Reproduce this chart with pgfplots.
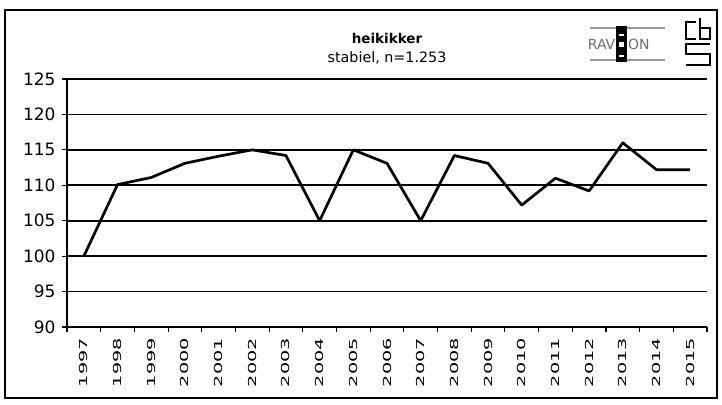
\documentclass[border=0pt]{standalone}
\usepackage{pgfplots}
\pgfplotsset{compat=1.18}
\usepackage{fontspec}
\setmainfont{DejaVu Sans}
\definecolor{logogray}{RGB}{110,110,110}

\begin{document}
\begin{tikzpicture}
\useasboundingbox (0,0) rectangle (722pt,404pt);
\draw[line width=1.5pt] (5pt,6pt) rectangle (717pt,394pt);

\begin{axis}[
	at={(67pt,77pt)}, anchor=south west,
	scale only axis, width=640pt, height=248pt,
	xmin=0.5, xmax=19.5, ymin=90, ymax=125,
	ytick={90,95,...,125},
	ymajorgrids, grid style={black, line width=1.6pt},
	axis lines*=left,
	axis line style={line width=1.6pt},
	xtick={0.5,1.5,...,19.5},
	x tick label as interval,
	xticklabels={1997,1998,1999,2000,2001,2002,2003,2004,2005,2006,2007,2008,2009,2010,2011,2012,2013,2014,2015},
	tick align=outside, major tick length=5pt,
	tick style={black, line width=1.1pt},
	/pgf/number format/assume math mode=true,
	yticklabel style={font=\fontsize{17}{17}\selectfont, xshift=-3pt},
	xticklabel style={font=\fontsize{11}{11}\selectfont, rotate=90, xscale=1.75, anchor=east},
	clip=false
]
\addplot[black, line width=2.7pt, line join=round] coordinates {
(1,100) (2,110.1) (3,111.1) (4,113.1) (5,114.1) (6,115) (7,114.2)
(8,105) (9,115) (10,113.1) (11,105) (12,114.2) (13,113.1) (14,107.2)
(15,111) (16,109.2) (17,116) (18,112.2) (19,112.2)
};
\end{axis}

\node[font=\fontsize{13.5}{14}\selectfont\bfseries] at (387pt,366pt) {heikikker};
\node[font=\fontsize{14.3}{15}\selectfont] at (387pt,346pt) {stabiel, n=1.253};

% RAVON logo
\draw[logogray!70, line width=1.5pt] (590pt,376pt) -- (665pt,376pt);
\draw[logogray!70, line width=1.5pt] (590pt,344pt) -- (665pt,344pt);
\fill[black] (616pt,342pt) rectangle (627pt,378pt);
\fill[white] (619pt,368pt) rectangle (624pt,370pt);
\fill[white] (619pt,357pt) rectangle (624pt,362pt);
\fill[white] (619pt,347pt) rectangle (624pt,349pt);
\node[logogray, font=\fontsize{14}{14}\selectfont, anchor=east, inner sep=0pt] at (615.5pt,360pt) {RAV};
\node[logogray, font=\fontsize{14}{14}\selectfont, anchor=west, inner sep=0pt] at (628pt,360pt) {ON};

% cbs logo
\begin{scope}[line width=1.2pt, double=white, double distance=2.2pt]
\draw (696pt,382pt) -- (686pt,382pt) -- (686pt,365pt) -- (696pt,365pt);
\draw (700pt,386pt) -- (700pt,365pt) -- (710pt,365pt) -- (710pt,376pt) -- (700pt,376pt);
\draw (710pt,360pt) -- (686pt,360pt) -- (686pt,350pt) -- (710pt,350pt) -- (710pt,339pt) -- (686pt,339pt);
\end{scope}
\end{tikzpicture}
\end{document}
